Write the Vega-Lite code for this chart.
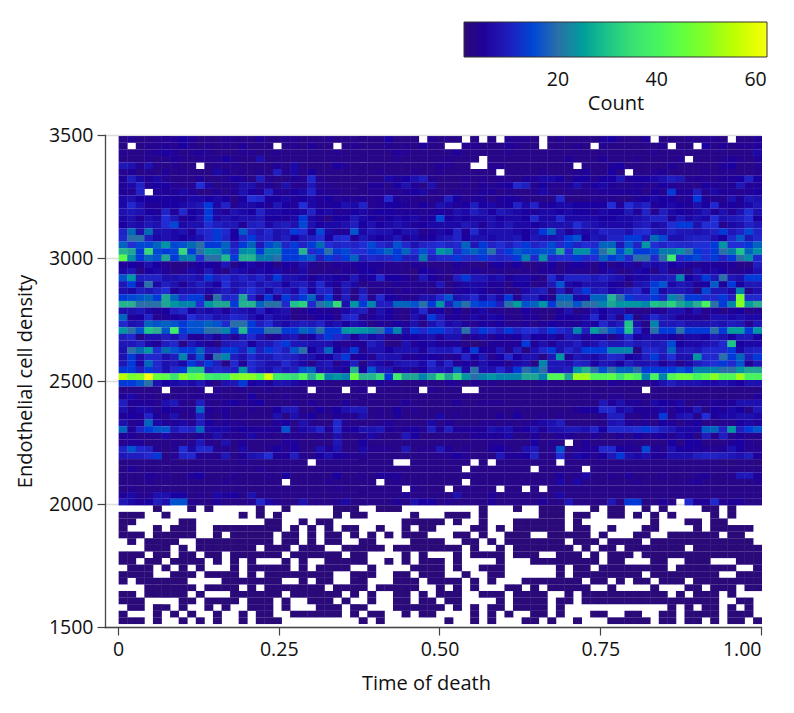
{"$schema":"https://vega.github.io/schema/vega-lite/v6.json","width":656,"height":492,"autosize":{"type":"none"},"padding":{"left":105,"top":135,"right":33,"bottom":86},"background":"white",
"data":{"values":[
{"y":3468.4,"c":[3,4,3,3,4, 4,5,6,5,3, 3,3,4,4,3, 3,5,3,3,4, 4,3,3,3,4, 3,3,3,3,3, 3,6,3,3,3, 0,4,3,3,3, 0,3,0,3,0, 4,4,4,3,0, 3,4,3,3,3, 3,5,6,4,3, 3,5,0,3,3, 3,4,3,4,4, 3,0,3,3,5]},
{"y":3441.6,"c":[3,0,3,4,4, 5,4,6,4,3, 4,3,4,3,5, 3,3,3,0,3, 4,3,5,3,3, 0,3,4,3,3, 3,4,3,4,3, 5,3,3,0,0, 4,4,3,3,3, 5,4,3,3,0, 3,3,3,4,3, 0,4,3,3,3, 3,3,3,4,0, 3,3,0,6,3, 5,3,4,4,5]},
{"y":3414.8,"c":[4,3,3,4,5, 6,5,3,4,5, 4,3,3,3,4, 4,3,3,4,3, 3,3,3,3,3, 4,3,3,3,3, 3,3,5,4,3, 3,3,3,3,5, 3,3,3,3,3, 4,3,3,3,3, 3,3,3,3,3, 3,3,3,3,3, 3,3,4,3,3, 3,3,3,3,3, 3,3,3,3,7]},
{"y":3388,"c":[3,3,3,4,3, 4,5,4,3,4, 4,4,6,4,3, 3,8,3,3,3, 3,3,3,3,3, 3,3,3,3,3, 3,3,4,3,3, 3,3,3,4,3, 3,3,0,3,3, 3,3,3,3,3, 3,3,5,3,3, 3,5,3,3,3, 4,3,3,3,3, 4,0,3,3,3, 4,5,4,3,5]},
{"y":3361.2,"c":[9,8,4,8,4, 3,4,3,3,0, 3,4,3,4,3, 3,3,3,5,3, 7,3,3,3,3, 6,4,3,3,3, 3,3,3,3,3, 3,3,5,4,3, 3,0,0,4,4, 3,3,3,3,3, 3,3,3,0,3, 3,3,5,6,3, 3,3,3,3,5, 3,3,3,3,3, 5,6,3,3,4]},
{"y":3334.4,"c":[4,5,3,4,3, 5,3,4,3,3, 3,7,5,3,4, 3,4,3,10,4, 7,3,6,3,3, 3,3,3,3,3, 4,3,3,3,4, 3,3,4,3,3, 3,3,3,3,0, 3,3,3,3,4, 3,3,3,4,5, 3,3,6,3,0, 3,3,4,5,3, 3,3,3,4,3, 4,4,3,3,4]},
{"y":3307.6,"c":[5,10,7,5,7, 4,3,3,3,5, 3,3,4,6,5, 3,10,4,3,3, 5,4,12,4,3, 3,3,3,3,3, 3,7,5,6,8, 10,4,3,3,3, 4,3,4,3,4, 4,3,5,5,7, 7,6,3,6,6, 4,6,6,9,5, 6,6,7,8,10, 9,4,5,4,4, 5,5,6,11,6]},
{"y":3280.8,"c":[5,7,11,5,6, 6,4,4,4,13, 7,3,4,4,8, 8,4,5,3,8, 4,4,9,4,4, 3,3,3,3,5, 5,3,6,8,5, 3,8,3,3,3, 4,3,5,4,5, 6,12,10,4,6, 4,4,5,8,4, 6,7,5,4,4, 5,4,4,6,5, 4,4,3,6,5, 4,5,9,5,5]},
{"y":3254,"c":[5,4,11,0,5, 5,5,7,5,3, 3,5,3,5,8, 6,5,11,5,4, 6,7,11,5,4, 4,3,3,3,4, 4,4,4,5,6, 7,4,3,3,4, 3,4,5,5,3, 4,3,3,4,7, 4,3,4,3,4, 4,5,5,5,5, 5,3,6,4,14, 5,5,10,4,7, 5,5,4,5,6]},
{"y":3227.2,"c":[7,8,6,6,6, 6,6,5,7,7, 6,7,6,3,6, 13,12,6,6,7, 5,6,7,5,6, 4,5,4,5,4, 5,12,5,4,4, 3,3,4,10,6, 4,5,5,3,5, 6,5,4,3,3, 3,12,3,3,3, 4,4,4,3,3, 5,6,7,6,6, 4,5,14,5,4, 4,8,5,9,8]},
{"y":3200.4,"c":[7,12,8,5,5, 6,6,7,8,9, 14,7,11,4,7, 7,6,5,9,6, 5,13,7,5,5, 6,8,7,11,4, 5,6,6,5,4, 6,4,8,7,5, 6,10,6,7,5, 6,11,7,11,5, 6,7,7,6,6, 6,6,13,5,13, 9,11,5,6,7, 6,5,8,6,12, 5,6,5,7,9]},
{"y":3173.6,"c":[8,9,8,6,5, 11,5,12,6,7, 14,7,5,8,7, 6,11,7,7,6, 6,7,11,6,7, 5,5,6,7,5, 6,6,5,5,5, 4,5,6,5,8, 7,10,8,6,9, 8,7,6,5,7, 7,6,7,6,6, 5,7,6,6,9, 5,11,4,10,7, 6,5,7,9,5, 8,5,8,13,8]},
{"y":3146.8,"c":[7,8,5,8,7, 13,9,5,6,8, 14,7,8,7,8, 8,9,6,6,5, 7,14,7,5,3, 6,6,9,7,6, 5,6,7,6,7, 5,6,15,6,7, 6,7,7,8,6, 7,7,6,12,7, 7,12,7,7,7, 7,6,6,7,7, 8,9,11,11,5, 9,7,8,7,13, 8,9,10,13,6]},
{"y":3120,"c":[6,8,7,9,8, 13,15,7,8,8, 13,10,9,9,5, 10,11,7,9,10, 8,15,8,6,7, 7,8,10,6,8, 6,7,8,7,5, 6,7,7,7,7, 9,8,5,8,7, 9,7,7,6,7, 8,8,8,13,9, 8,7,7,7,7, 9,10,7,8,13, 14,14,8,13,13, 4,7,8,11,9]},
{"y":3093.2,"c":[11,19,8,19,8, 8,7,8,5,11, 12,14,12,6,17, 11,9,12,8,9, 14,13,6,15,7, 5,5,16,7,9, 8,8,6,8,8, 4,5,7,6,11, 5,12,7,8,8, 8,7,6,8,14, 18,9,5,8,7, 8,11,10,10,8, 12,13,9,8,11, 9,9,8,9,11, 14,9,11,15,11]},
{"y":3066.4,"c":[12,20,20,10,7, 8,7,6,7,8, 12,14,11,6,11, 14,10,11,8,10, 6,9,10,13,6, 12,13,5,9,7, 6,7,9,5,7, 5,6,8,9,11, 6,8,8,7,8, 8,9,6,9,8, 8,9,14,16,6, 9,8,11,11,14, 14,9,19,15,8, 8,10,11,11,8, 6,12,17,9,12]},
{"y":3039.6,"c":[18,13,15,15,18, 24,15,16,19,20, 14,14,18,10,14, 18,9,15,18,11, 14,11,14,19,13, 11,12,11,13,15, 12,10,16,12,8, 11,12,13,11,12, 18,9,14,11,13, 10,13,14,11,13, 15,12,14,11,13, 12,18,18,9,16, 11,24,13,11,13, 12,12,13,13,14, 24,13,13,14,18]},
{"y":3012.8,"c":[28,26,14,33,15, 14,15,33,14,20, 24,23,17,12,23, 24,14,22,22,14, 14,28,12,14,20, 14,15,13,13,14, 15,18,14,18,13, 16,13,24,22,12, 16,18,15,20,12, 14,17,15,15,16, 16,26,13,23,23, 15,20,26,15,23, 14,14,15,21,21, 23,20,14,13,14, 20,21,30,18,23]},
{"y":2986,"c":[44,23,14,18,16, 26,14,21,22,13, 20,20,29,14,28, 28,21,21,20,14, 14,15,17,10,14, 12,14,18,10,12, 11,12,14,10,10, 21,10,12,12,14, 12,12,14,12,11, 12,14,22,12,24, 12,13,13,14,12, 13,18,14,16,12, 20,20,12,20,38, 12,14,15,13,14, 11,14,20,23,12]},
{"y":2959.2,"c":[5,6,5,8,6, 4,3,3,4,6, 6,5,9,3,6, 7,5,6,3,6, 5,8,4,3,3, 5,4,5,6,5, 5,4,4,3,5, 4,3,3,3,5, 4,3,2,5,6, 4,6,3,3,4, 6,3,5,6,5, 3,6,3,5,7, 4,8,7,8,6, 7,5,4,5,5, 5,5,3,3,10]},
{"y":2932.4,"c":[7,9,3,6,7, 5,3,4,7,5, 9,5,3,8,7, 5,7,6,7,5, 4,7,3,3,4, 3,5,4,6,6, 4,4,4,3,2, 6,5,4,3,4, 3,5,4,3,4, 3,3,4,3,5, 5,3,5,4,4, 3,5,7,3,4, 7,6,3,8,4, 4,3,8,5,7, 6,4,4,5,8]},
{"y":2905.6,"c":[16,24,10,11,11, 8,8,9,9,8, 14,10,12,9,11, 9,11,8,14,8, 8,7,5,7,7, 6,5,9,5,6, 12,6,6,5,3, 9,6,4,3,10, 14,9,9,7,8, 5,7,7,5,3, 12,7,11,11,11, 9,11,9,8,5, 7,7,9,9,10, 22,6,8,14,9, 20,9,8,14,14]},
{"y":2878.8,"c":[9,14,7,20,7, 10,8,5,8,10, 8,6,13,8,9, 11,8,10,9,6, 9,10,7,12,7, 5,9,7,3,4, 4,3,5,4,4, 4,4,9,3,5, 7,7,7,5,5, 3,6,6,3,4, 9,16,7,6,8, 8,8,6,5,3, 8,9,14,16,7, 9,8,5,6,17, 5,14,6,9,9]},
{"y":2852,"c":[8,7,10,9,11, 13,5,8,8,9, 7,8,10,8,11, 13,10,7,11,9, 7,13,6,11,11, 4,9,3,9,3, 4,5,3,5,4, 4,3,4,3,5, 6,7,6,4,5, 3,3,7,9,10, 3,10,4,10,14, 9,10,7,8,10, 12,7,15,7,9, 9,8,3,15,9, 9,7,22,4,8]},
{"y":2825.2,"c":[14,15,16,18,14, 26,18,12,14,14, 3,20,11,12,26, 11,5,14,5,14, 10,14,18,8,14, 4,10,3,12,4, 12,6,5,4,4, 8,8,12,16,8, 9,12,7,10,7, 14,4,10,10,6, 4,18,18,7,7, 18,18,28,20,14, 12,12,14,11,22, 20,14,14,12,12, 14,10,48,12,12]},
{"y":2798.4,"c":[28,27,20,20,20, 26,24,22,22,13, 24,26,26,14,28, 28,18,20,20,12, 30,32,12,20,22, 33,8,24,14,22, 10,10,18,18,16, 20,14,24,10,17, 20,15,14,14,10, 20,25,16,18,24, 14,20,20,16,20, 20,22,26,24,24, 24,22,30,28,32, 26,24,27,40,20, 14,22,50,25,27]},
{"y":2771.6,"c":[8,8,9,7,5, 6,10,12,6,8, 7,8,5,9,8, 7,10,6,7,8, 3,4,6,5,5, 4,7,9,10,4, 8,6,4,3,7, 12,5,6,3,6, 3,5,7,4,4, 3,3,6,4,3, 3,5,8,3,4, 8,6,8,8,4, 4,3,5,4,8, 8,5,8,4,5, 3,5,6,3,4]},
{"y":2744.8,"c":[18,5,6,11,4, 5,6,7,13,10, 11,8,9,12,11, 8,6,9,7,7, 3,4,4,6,6, 4,11,12,4,5, 7,6,4,3,8, 5,14,9,5,5, 4,7,5,7,6, 4,3,5,5,3, 3,6,6,5,7, 12,6,9,4,14, 3,7,12,9,8, 5,5,5,4,8, 8,7,8,7,7]},
{"y":2718,"c":[12,8,9,18,16, 18,16,14,16,16, 18,16,12,20,20, 14,10,13,8,7, 9,10,9,11,7, 8,6,8,7,3, 5,4,6,5,8, 3,8,11,7,8, 5,4,6,5,6, 4,4,5,3,5, 6,5,5,5,7, 6,12,8,10,30, 8,3,22,9,9, 10,8,8,8,9, 8,10,9,4,9]},
{"y":2691.2,"c":[24,20,16,30,27, 16,38,14,16,16, 20,20,22,14,29, 14,14,20,20,14, 14,18,16,20,14, 14,24,25,24,22, 20,14,22,8,14, 12,14,14,12,10, 20,11,14,13,10, 14,11,13,13,10, 14,12,10,22,10, 25,20,16,14,30, 12,5,20,14,14, 20,14,14,14,20, 14,25,25,14,24]},
{"y":2664.4,"c":[10,12,3,8,8, 10,8,12,5,5, 8,5,8,4,9, 12,8,4,5,8, 9,4,6,10,14, 12,10,5,9,7, 8,4,4,6,6, 7,8,5,8,8, 3,5,7,4,6, 5,6,9,6,6, 7,5,9,8,5, 6,6,3,7,12, 6,7,7,7,6, 4,7,7,6,9, 8,6,9,9,6]},
{"y":2637.6,"c":[9,9,11,7,5, 10,12,3,9,7, 5,3,9,10,11, 6,9,9,12,14, 9,9,8,8,8, 5,4,5,5,10, 8,3,3,8,5, 6,7,5,5,5, 3,1,3,5,5, 5,5,14,5,8, 5,8,8,10,7, 8,11,9,9,11, 9,10,9,10,15, 6,7,7,8,9, 12,30,6,7,7]},
{"y":2610.8,"c":[8,20,19,24,13, 19,16,14,14,18, 10,10,14,14,10, 16,10,14,13,10, 16,20,6,9,18, 6,8,14,4,8, 8,6,8,8,8, 5,10,9,9,12, 6,14,6,5,9, 4,10,3,8,12, 14,8,12,9,14, 14,14,22,22,22, 3,12,12,10,18, 9,10,9,12,12, 12,14,7,10,11]},
{"y":2584,"c":[8,14,8,12,12, 8,10,22,8,16, 5,20,22,10,8, 12,9,9,12,11, 10,8,8,6,6, 10,14,5,6,4, 9,8,8,5,5, 6,6,5,4,5, 11,6,9,4,6, 12,6,8,8,3, 9,24,5,9,8, 7,9,12,11,6, 7,10,14,9,13, 8,8,24,12,12, 20,14,18,10,14]},
{"y":2557.2,"c":[9,14,7,18,12, 8,9,7,14,10, 14,10,3,12,5, 12,10,8,8,12, 9,7,4,8,9, 4,7,10,3,8, 7,5,8,9,9, 7,12,7,11,5, 6,5,8,6,6, 4,7,8,3,22, 9,9,8,11,10, 6,9,8,6,10, 8,8,9,5,8, 4,7,10,12,13, 14,12,16,5,9]},
{"y":2530.4,"c":[14,14,10,14,12, 8,12,14,30,30, 10,12,11,10,24, 12,9,8,11,9, 10,16,18,8,8, 7,5,28,6,16, 9,9,5,7,4, 6,10,9,8,18, 7,20,8,8,12, 8,14,20,18,20, 9,9,10,24,28, 20,16,20,18,18, 20,14,14,14,14, 16,14,22,22,22, 20,20,24,26,26]},
{"y":2503.6,"c":[55,48,50,62,46, 44,36,50,44,46, 38,36,38,48,50, 50,44,58,38,36, 34,42,28,40,22, 24,22,46,28,28, 34,14,38,26,26, 22,26,36,26,33, 24,20,22,24,22, 22,22,26,26,22, 42,42,26,52,52, 42,42,44,36,44, 40,22,40,22,42, 46,46,40,44,50, 42,42,52,40,40]},
{"y":2476.8,"c":[14,14,16,20,8, 6,7,8,7,9, 5,3,8,9,14, 6,7,5,8,8, 7,5,4,4,3, 3,3,4,3,3, 5,4,4,3,3, 3,3,3,5,4, 2,4,3,4,3, 3,3,3,3,4, 3,3,3,3,3, 3,3,5,4,4, 3,3,5,8,10, 8,8,8,7,7, 8,7,6,8,8]},
{"y":2450,"c":[3,3,3,3,3, 0,3,3,3,4, 0,4,3,3,4, 3,3,4,3,3, 3,3,0,3,3, 3,0,3,4,0, 3,3,3,3,3, 0,4,3,3,3, 0,0,3,3,3, 3,3,3,3,3, 3,3,3,3,3, 3,3,3,3,3, 3,0,3,3,3, 3,3,3,3,3, 3,3,3,3,3]},
{"y":2423.2,"c":[5,7,4,4,3, 4,3,4,4,4, 4,4,3,3,3, 6,3,3,3,4, 3,3,3,3,3, 3,3,3,3,3, 3,3,3,3,3, 3,3,3,3,3, 3,3,3,3,3, 3,3,3,3,3, 3,3,3,3,3, 4,3,4,4,3, 3,3,3,3,3, 3,3,3,3,3, 3,3,3,3,5]},
{"y":2396.4,"c":[10,5,5,5,4, 8,9,4,3,10, 4,3,5,6,4, 5,6,3,3,3, 4,3,5,3,3, 3,5,3,3,3, 3,3,3,5,3, 3,3,3,3,5, 3,3,4,4,4, 3,3,3,3,3, 3,3,3,3,3, 3,9,5,8,5, 5,3,7,6,5, 7,3,4,4,5, 5,5,8,8,8]},
{"y":2369.6,"c":[8,5,7,7,4, 6,5,4,4,18, 5,4,5,3,3, 4,3,3,6,9, 9,3,3,6,4, 6,8,9,9,3, 4,3,6,3,4, 3,3,3,3,3, 3,3,3,3,3, 3,4,3,3,3, 3,3,3,5,6, 6,12,12,7,8, 5,5,5,7,4, 6,5,9,3,6, 5,7,6,3,9]},
{"y":2342.8,"c":[5,6,5,11,5, 4,8,3,4,10, 4,3,5,3,4, 3,3,3,8,3, 8,4,6,3,3, 5,4,4,8,3, 4,3,5,3,3, 3,3,7,3,4, 3,3,3,3,5, 3,6,3,3,4, 3,4,3,3,3, 3,4,10,10,4, 3,5,4,14,4, 8,9,4,13,5, 7,7,8,8,7]},
{"y":2316,"c":[8,4,5,18,7, 5,5,7,4,10, 6,4,5,4,4, 3,3,3,5,6, 3,8,4,3,3, 12,4,3,3,3, 4,5,3,3,3, 3,7,3,5,3, 3,3,4,4,3, 4,3,4,5,7, 8,10,3,3,3, 3,3,8,9,5, 4,5,3,6,5, 3,5,6,3,3, 4,4,6,7,5]},
{"y":2289.2,"c":[18,5,11,14,16, 16,9,12,11,18, 7,7,7,5,6, 5,5,5,5,16, 4,7,8,11,5, 12,5,6,8,8, 9,5,4,5,6, 4,10,5,10,5, 5,5,5,8,7, 8,5,6,8,5, 8,8,9,9,8, 11,6,12,12,12, 13,14,13,10,9, 7,7,7,17,18, 11,24,10,14,16]},
{"y":2262.4,"c":[5,5,3,4,4, 7,4,4,3,5, 4,8,4,4,4, 7,4,4,3,4, 4,4,3,4,3, 8,3,3,4,7, 4,3,3,9,6, 3,3,3,3,3, 3,5,5,5,5, 7,3,3,5,3, 3,5,5,3,3, 5,3,3,5,3, 6,4,5,6,4, 7,6,3,10,4, 10,4,5,4,4]},
{"y":2235.6,"c":[4,5,5,3,3, 3,4,3,4,9, 4,3,8,3,5, 3,3,3,3,5, 5,3,3,3,3, 9,3,3,6,3, 3,3,3,3,3, 3,3,3,3,3, 3,3,3,4,4, 3,3,3,6,3, 4,3,0,3,5, 3,3,3,3,4, 3,3,3,3,6, 3,6,6,3,3, 3,5,6,4,3]},
{"y":2208.8,"c":[11,16,12,11,4, 3,4,13,7,12, 12,4,4,3,7, 3,3,4,6,4, 6,3,3,8,5, 8,3,3,7,4, 4,4,3,9,3, 4,4,9,5,3, 4,3,3,5,6, 4,3,8,9,3, 4,16,3,4,5, 5,12,12,6,5, 4,15,5,4,8, 6,6,5,5,4, 5,8,6,4,4]},
{"y":2182,"c":[9,10,10,12,14, 3,4,11,12,5, 4,4,9,3,5, 8,9,13,5,5, 10,4,3,6,8, 6,5,4,4,3, 3,3,3,3,3, 3,3,4,4,6, 4,3,3,3,9, 5,5,6,11,3, 4,13,4,7,6, 4,6,9,14,8, 7,8,5,5,8, 8,8,10,11,11, 10,9,8,10,5]},
{"y":2155.2,"c":[3,3,3,3,3, 3,3,2,3,3, 3,3,3,3,4, 3,3,3,3,3, 3,3,0,3,3, 3,3,3,3,3, 3,3,0,0,3, 3,3,3,3,3, 3,0,3,0,3, 3,3,3,3,3, 3,0,3,3,3, 3,3,3,3,3, 3,3,3,3,3, 3,3,3,3,3, 2,2,3,3,2]},
{"y":2128.4,"c":[3,5,3,3,3, 3,3,3,3,3, 3,3,3,3,3, 3,4,3,3,3, 3,3,3,3,3, 3,3,3,3,3, 3,3,3,3,3, 3,3,3,3,3, 0,3,3,3,3, 3,3,3,0,3, 3,3,3,3,0, 3,3,3,3,3, 3,3,3,3,3, 3,3,3,3,3, 3,3,3,3,3]},
{"y":2101.6,"c":[3,3,3,5,4, 4,3,3,5,6, 3,3,3,4,3, 3,3,4,3,6, 3,3,3,3,3, 6,3,3,4,3, 5,5,5,3,3, 3,3,3,3,3, 3,3,3,3,3, 3,3,3,3,3, 3,5,3,4,7, 3,3,4,3,5, 3,3,3,4,3, 3,3,4,5,3, 3,4,9,9,5]},
{"y":2074.8,"c":[3,3,3,4,3, 3,3,3,3,3, 3,3,4,3,3, 3,3,3,3,0, 3,3,3,3,4, 3,3,3,3,3, 0,3,4,3,3, 3,3,3,3,3, 0,3,3,3,3, 3,3,3,3,3, 3,7,3,7,3, 3,3,3,3,3, 4,3,3,3,3, 3,4,5,3,3, 3,3,3,3,4]},
{"y":2048,"c":[3,4,3,3,3, 3,3,3,3,3, 3,3,3,3,3, 3,3,3,3,3, 3,3,3,3,3, 4,3,3,3,3, 3,3,3,0,4, 3,3,3,0,3, 3,3,3,3,0, 3,3,0,3,0, 3,3,3,3,3, 3,3,3,3,3, 3,3,3,3,3, 3,3,3,3,3, 3,3,3,3,3]},
{"y":2021.2,"c":[5,7,4,4,8, 8,6,6,3,4, 3,7,5,6,3, 8,3,3,3,3, 3,3,3,3,3, 3,3,3,3,3, 3,3,3,5,3, 3,3,3,3,8, 3,3,3,5,3, 3,3,3,3,3, 3,7,3,3,3, 3,3,3,3,3, 3,3,3,3,3, 3,3,3,3,3, 3,3,3,3,3]},
{"y":1994.4,"c":[9,7,5,6,10, 8,16,16,4,3, 3,5,3,3,3, 4,12,7,4,3, 3,8,3,3,3, 4,7,3,3,3, 3,3,5,3,8, 6,6,3,4,3, 3,3,3,5,3, 3,3,3,3,5, 3,3,9,3,3, 3,3,9,3,14, 14,3,3,5,3, 0,12,5,5,12, 4,5,5,3,3]},
{"y":1967.6,"c":[0,0,0,0,1, 0,0,0,1,0, 1,0,0,0,0, 0,1,0,0,1, 0,0,0,0,0, 1,1,1,0,0, 1,1,1,0,0, 0,0,0,0,0, 0,0,1,0,0, 0,1,0,0,1, 1,1,0,0,0, 1,0,1,1,0, 0,1,0,1,0, 0,0,0,1,1, 0,1,0,0,0]},
{"y":1940.8,"c":[1,1,1,0,0, 1,0,0,0,0, 0,0,0,0,1, 0,1,0,1,0, 0,0,0,0,0, 1,0,1,1,0, 0,0,0,0,1, 0,0,0,1,1, 1,0,1,0,0, 0,0,0,0,1, 1,1,0,1,1, 0,0,1,1,0, 1,0,1,0,1, 0,0,0,0,1, 0,1,0,0,0]},
{"y":1914,"c":[1,1,0,0,0, 0,0,1,1,0, 0,0,0,0,0, 0,0,1,1,0, 0,1,0,1,1, 0,0,0,0,0, 0,0,0,1,1, 1,1,1,0,1, 0,0,1,0,0, 0,1,1,1,1, 1,1,0,1,0, 0,0,0,0,0, 0,0,1,0,0, 0,1,1,0,1, 1,0,0,0,0]},
{"y":1887.2,"c":[1,0,0,0,1, 0,1,1,1,0, 0,1,1,1,1, 1,1,1,1,0, 1,0,1,0,1, 0,1,1,0,0, 1,0,0,1,0, 1,1,0,0,0, 0,1,1,0,1, 0,1,1,1,1, 1,1,0,1,1, 0,0,1,0,0, 0,1,1,0,0, 0,0,1,0,1, 1,1,1,1,0]},
{"y":1860.4,"c":[1,1,1,0,1, 1,1,1,1,0, 0,1,0,1,1, 1,1,1,0,1, 1,0,1,0,1, 1,0,1,0,1, 0,1,0,1,1, 1,0,0,0,1, 1,0,1,0,0, 1,1,1,0,0, 1,1,1,1,1, 0,1,0,0,0, 1,1,0,0,1, 1,1,1,1,1, 0,1,1,0,0]},
{"y":1833.6,"c":[0,1,0,1,1, 1,1,0,0,1, 1,1,1,1,1, 1,1,1,0,1, 1,0,1,0,1, 1,0,0,1,1, 0,0,0,0,1, 1,1,1,0,0, 1,1,0,1,0, 1,1,1,1,1, 1,1,0,1,1, 1,0,1,1,1, 1,0,1,1,1, 1,1,1,1,1, 1,1,1,1,0]},
{"y":1806.8,"c":[0,0,0,1,1, 1,0,1,0,1, 1,1,1,1,1, 1,0,1,1,1, 0,1,1,1,0, 0,1,1,1,1, 1,0,1,1,1, 1,1,1,1,1, 0,1,0,0,1, 0,1,1,1,1, 1,1,1,0,1, 0,1,1,0,1, 1,1,1,1,1, 1,0,1,1,1, 1,1,1,1,1]},
{"y":1780,"c":[1,1,1,0,1, 1,0,1,1,0, 1,1,0,1,1, 1,1,1,1,0, 1,1,1,1,1, 1,0,1,1,0, 0,0,0,1,0, 1,0,0,0,1, 0,1,1,1,1, 0,1,1,1,0, 0,1,1,1,0, 1,0,1,1,1, 0,1,1,1,1, 1,1,1,1,1, 1,1,1,1,1]},
{"y":1753.2,"c":[1,1,0,1,1, 0,1,1,1,1, 0,1,0,1,0, 1,0,0,0,1, 0,1,0,0,1, 1,1,1,1,0, 0,1,0,1,0, 1,1,1,0,1, 0,0,0,0,1, 0,0,0,1,1, 1,1,1,1,1, 1,0,1,1,0, 0,0,1,1,0, 0,1,1,1,0, 0,0,1,1,1]},
{"y":1726.4,"c":[0,1,1,1,0, 1,0,1,0,1, 0,0,0,1,0, 1,1,1,1,1, 0,1,0,1,1, 1,1,0,0,1, 0,0,0,0,1, 1,1,1,0,1, 0,0,1,1,1, 0,0,0,0,0, 0,1,0,1,1, 0,1,1,1,1, 1,1,1,1,0, 1,1,1,1,1, 1,1,0,0,1]},
{"y":1699.6,"c":[1,1,1,1,0, 0,1,1,1,0, 1,1,1,1,0, 1,0,1,1,1, 1,1,1,1,1, 0,0,1,1,1, 0,0,1,1,0, 1,1,1,0,0, 1,0,0,1,1, 0,0,0,0,0, 0,1,0,1,1, 1,1,1,1,1, 1,0,1,1,1, 1,1,1,1,1, 0,0,1,1,1]},
{"y":1672.8,"c":[1,0,1,1,1, 1,1,1,0,0, 0,0,1,1,1, 1,1,1,1,0, 0,1,0,1,1, 0,0,1,1,0, 0,0,1,1,1, 0,1,1,1,1, 0,1,0,1,0, 0,0,1,1,1, 1,1,1,1,0, 1,1,0,1,0, 1,1,0,1,1, 1,0,1,1,1, 1,1,1,1,1]},
{"y":1646,"c":[0,0,0,1,1, 1,1,1,1,0, 1,1,1,1,0, 1,0,1,1,1, 1,1,1,1,0, 1,1,1,1,0, 1,1,1,1,1, 0,0,1,0,1, 0,1,0,0,0, 1,1,0,1,0, 1,1,1,1,1, 0,0,1,0,0, 0,0,1,0,0, 0,1,1,0,1, 1,1,0,1,1]},
{"y":1619.2,"c":[1,1,0,1,1, 1,1,1,0,1, 0,0,0,1,1, 1,1,1,1,0, 1,1,1,1,1, 1,0,1,0,1, 0,0,1,1,0, 1,0,1,1,1, 0,0,1,1,1, 0,1,1,1,1, 0,0,1,0,1, 1,1,1,1,1, 1,1,1,1,0, 1,0,1,1,1, 0,1,0,0,0]},
{"y":1592.4,"c":[1,1,1,0,0, 0,0,1,1,0, 1,1,1,1,0, 1,1,1,0,1, 0,0,1,1,1, 0,1,0,0,1, 0,0,1,1,0, 1,1,0,1,1, 0,0,0,0,1, 0,1,1,1,1, 0,1,1,0,1, 1,1,1,1,1, 1,1,1,1,1, 1,1,1,1,1, 0,0,1,1,0]},
{"y":1565.6,"c":[0,1,1,0,1, 1,0,1,0,0, 1,0,1,0,0, 1,1,1,0,1, 0,0,0,1,1, 1,0,1,1,0, 0,0,1,1,1, 1,1,1,0,1, 0,1,0,1,1, 0,1,1,1,1, 0,1,0,0,0, 0,0,0,0,0, 0,0,0,0,1, 0,1,0,1,1, 0,1,0,1,0]},
{"y":1538.8,"c":[1,0,0,0,1, 0,1,0,1,0, 0,1,0,0,1, 0,1,1,0,0, 1,1,1,1,1, 1,0,1,0,1, 1,0,0,1,0, 1,1,0,0,0, 0,1,0,1,0, 1,0,0,1,1, 0,1,0,0,0, 1,1,0,0,1, 1,0,0,1,1, 0,1,1,1,1, 0,1,1,1,0]},
{"y":1512,"c":[1,1,1,0,1, 0,0,1,0,1, 0,1,0,0,1, 0,1,1,1,0, 0,0,0,0,0, 0,0,0,1,0, 1,0,0,0,0, 0,0,0,1,0, 0,1,0,1,0, 0,0,1,1,0, 1,0,0,1,0, 0,0,1,1,1, 1,1,0,1,1, 0,1,1,0,1, 0,1,1,0,1]}
]},
"transform":[{"flatten":["c"]},{"window":[{"op":"row_number","as":"i"}],"groupby":["y"]},{"filter":"datum.c>0"},{"calculate":"(datum.i-1)/75+0.001","as":"x0"},{"calculate":"datum.i/75+0.0016","as":"x1"},{"calculate":"datum.y+27.3","as":"y1"}],
"mark":{"type":"rect","strokeWidth":0},
"encoding":{
"x":{"field":"x0","type":"quantitative","scale":{"domain":[-0.0202,1.0],"nice":false,"zero":false},"axis":{"values":[0,0.25,0.5,0.75,1],"labelExpr":"datum.value==0?'0':format(datum.value,'.2f')","title":"Time of death","titleX":321,"grid":false,"domainColor":"#444","domainWidth":1.3,"tickColor":"#444","tickSize":8,"tickWidth":1.2,"labelFont":"Open Sans","labelFontSize":19.5,"labelColor":"#111","labelPadding":5,"titleFont":"Open Sans","titleFontSize":20,"titleFontWeight":"normal","titleColor":"#111","titlePadding":15}},
"x2":{"field":"x1"},
"y":{"field":"y","type":"quantitative","scale":{"domain":[1500,3500],"nice":false,"zero":false},"axis":{"values":[1500,2000,2500,3000,3500],"format":"d","title":"Endothelial cell density","grid":true,"gridColor":"#dcdcdc","gridWidth":1.5,"domainColor":"#444","domainWidth":1.3,"tickColor":"#444","tickSize":8,"tickWidth":1.2,"labelFont":"Open Sans","labelFontSize":19.5,"labelColor":"#111","labelPadding":4,"titleFont":"Open Sans","titleFontSize":20,"titleFontWeight":"normal","titleColor":"#111","titlePadding":13}},
"y2":{"field":"y1"},
"color":{"field":"c","type":"quantitative","scale":{"type":"linear","domain":[1,6,13.5,20,26.5,33,38.5,45,50.5,62.3],"range":["#2a0a78","#1a00a0","#2030d8","#2a70a8","#30a890","#38d878","#40f068","#60ff40","#88ff20","#f8ff10"]},"legend":{"orient":"none","legendX":359,"legendY":-113,"direction":"horizontal","gradientLength":303,"gradientThickness":35,"gradientStrokeColor":"#333","gradientStrokeWidth":1,"values":[20,40,60],"title":"Count","titleOrient":"bottom","titleAnchor":"middle","titleFont":"Open Sans","titleFontSize":20,"titleFontWeight":"normal","titleColor":"#111","titlePadding":4,"labelFont":"Open Sans","labelFontSize":19.5,"labelColor":"#111","labelOffset":14}}
},
"config":{"view":{"stroke":null},"axis":{"domainCap":"square"}}
}
